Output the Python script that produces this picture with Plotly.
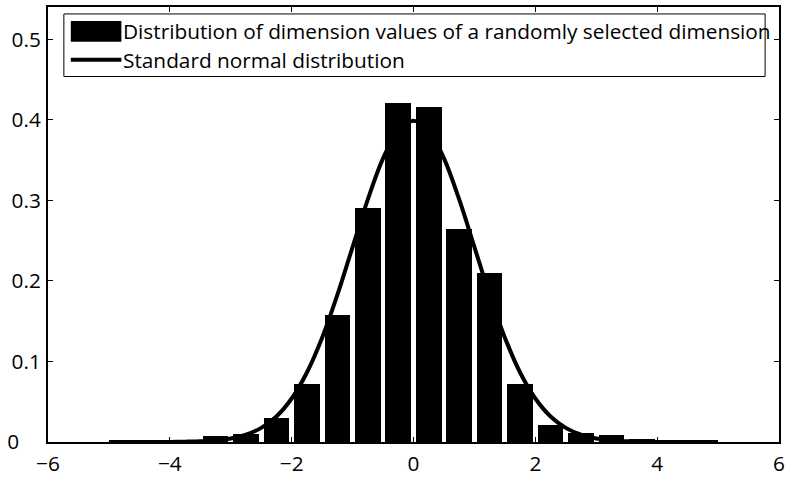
import plotly.graph_objects as go

# Histogram bins (centres) and relative frequencies
bin_centers = [-4.75, -4.25, -3.75, -3.25, -2.75, -2.25, -1.75, -1.25, -0.75, -0.25,
               0.25, 0.75, 1.25, 1.75, 2.25, 2.75, 3.25, 3.75, 4.25, 4.75]
bin_values = [0.002, 0.002, 0.003, 0.007, 0.010, 0.030, 0.072, 0.158, 0.290, 0.421,
              0.416, 0.264, 0.210, 0.072, 0.021, 0.011, 0.009, 0.004, 0.003, 0.003]

curve_x = [-5.0, -4.75, -4.5, -4.25, -4.0, -3.75, -3.5, -3.25, -3.0, -2.75, -2.5, -2.25,
           -2.0, -1.75, -1.5, -1.25, -1.0, -0.75, -0.5, -0.25, 0.0, 0.25, 0.5, 0.75,
           1.0, 1.25, 1.5, 1.75, 2.0, 2.25, 2.5, 2.75, 3.0, 3.25, 3.5, 3.75, 4.0,
           4.25, 4.5, 4.75, 5.0]
curve_y = [0.0000, 0.0000, 0.0000, 0.0000, 0.0001, 0.0004, 0.0009, 0.0020, 0.0044, 0.0091,
           0.0175, 0.0317, 0.0540, 0.0863, 0.1295, 0.1826, 0.2420, 0.3011, 0.3521, 0.3867,
           0.3989, 0.3867, 0.3521, 0.3011, 0.2420, 0.1826, 0.1295, 0.0863, 0.0540, 0.0317,
           0.0175, 0.0091, 0.0044, 0.0020, 0.0009, 0.0004, 0.0001, 0.0000, 0.0000, 0.0000,
           0.0000]

x_ticks = [-6, -4, -2, 0, 2, 4, 6]
x_tick_labels = ["\u22126", "\u22124", "\u22122", "0", "2", "4", "6"]
y_ticks = [0, 0.1, 0.2, 0.3, 0.4, 0.5]
y_tick_labels = ["0\u00a0\u00a0\u00a0\u00a0", "0.1", "0.2", "0.3", "0.4", "0.5"]

legend_labels = ["Distribution of dimension values of a randomly selected dimension",
                 "Standard normal distribution"]

FONT = "Open Sans"
FS = 20.8
W, H = 787, 479
L, R, T, B = 48, 2, 7, 34
PW, PH = W - L - R, H - T - B


def px(x):
    return (x - L) / PW


def py(y):
    return (H - B - y) / PH


fig = go.Figure()
fig.add_trace(go.Bar(x=bin_centers, y=bin_values, width=0.42,
                     marker=dict(color="black", line=dict(width=0)),
                     name=legend_labels[0], showlegend=False))
fig.add_trace(go.Scatter(x=curve_x, y=curve_y, mode="lines", line_shape="spline",
                         line=dict(color="black", width=4),
                         name=legend_labels[1], showlegend=False))

axis_common = dict(showline=True, linecolor="black", linewidth=2, mirror="ticks",
                   ticks="inside", ticklen=5, tickwidth=1, tickcolor="black",
                   showgrid=False, zeroline=False, ticklabeloverflow="allow",
                   tickfont=dict(family=FONT, size=FS, color="black"))

fig.update_xaxes(range=[-6, 6], tickvals=x_ticks, ticktext=x_tick_labels,
                 ticklabelstandoff=2, **axis_common)
fig.update_yaxes(range=[0, 0.54], tickvals=y_ticks, ticktext=y_tick_labels,
                 ticklabelstandoff=1, **axis_common)

shapes = [
    dict(type="rect", xref="paper", yref="paper", x0=px(64), x1=px(771), y0=py(77), y1=py(14),
         line=dict(color="black", width=1), fillcolor="white", layer="above"),
    dict(type="rect", xref="paper", yref="paper", x0=px(71), x1=px(122), y0=py(42), y1=py(21),
         line=dict(width=0), fillcolor="black", layer="above"),
    dict(type="line", xref="paper", yref="paper", x0=px(71), x1=px(122), y0=py(60), y1=py(60),
         line=dict(color="black", width=4), layer="above"),
]
annotations = [
    dict(xref="paper", yref="paper", x=px(122), y=py(31), text=legend_labels[0],
         showarrow=False, xanchor="left", yanchor="middle",
         font=dict(family=FONT, size=FS, color="black")),
    dict(xref="paper", yref="paper", x=px(122), y=py(60), text=legend_labels[1],
         showarrow=False, xanchor="left", yanchor="middle",
         font=dict(family=FONT, size=FS, color="black")),
]

fig.update_layout(width=W, height=H, margin=dict(l=L, r=R, t=T, b=B, pad=0),
                  plot_bgcolor="white", paper_bgcolor="white", bargap=0,
                  shapes=shapes, annotations=annotations, showlegend=False)

fig.write_html("out.html")
